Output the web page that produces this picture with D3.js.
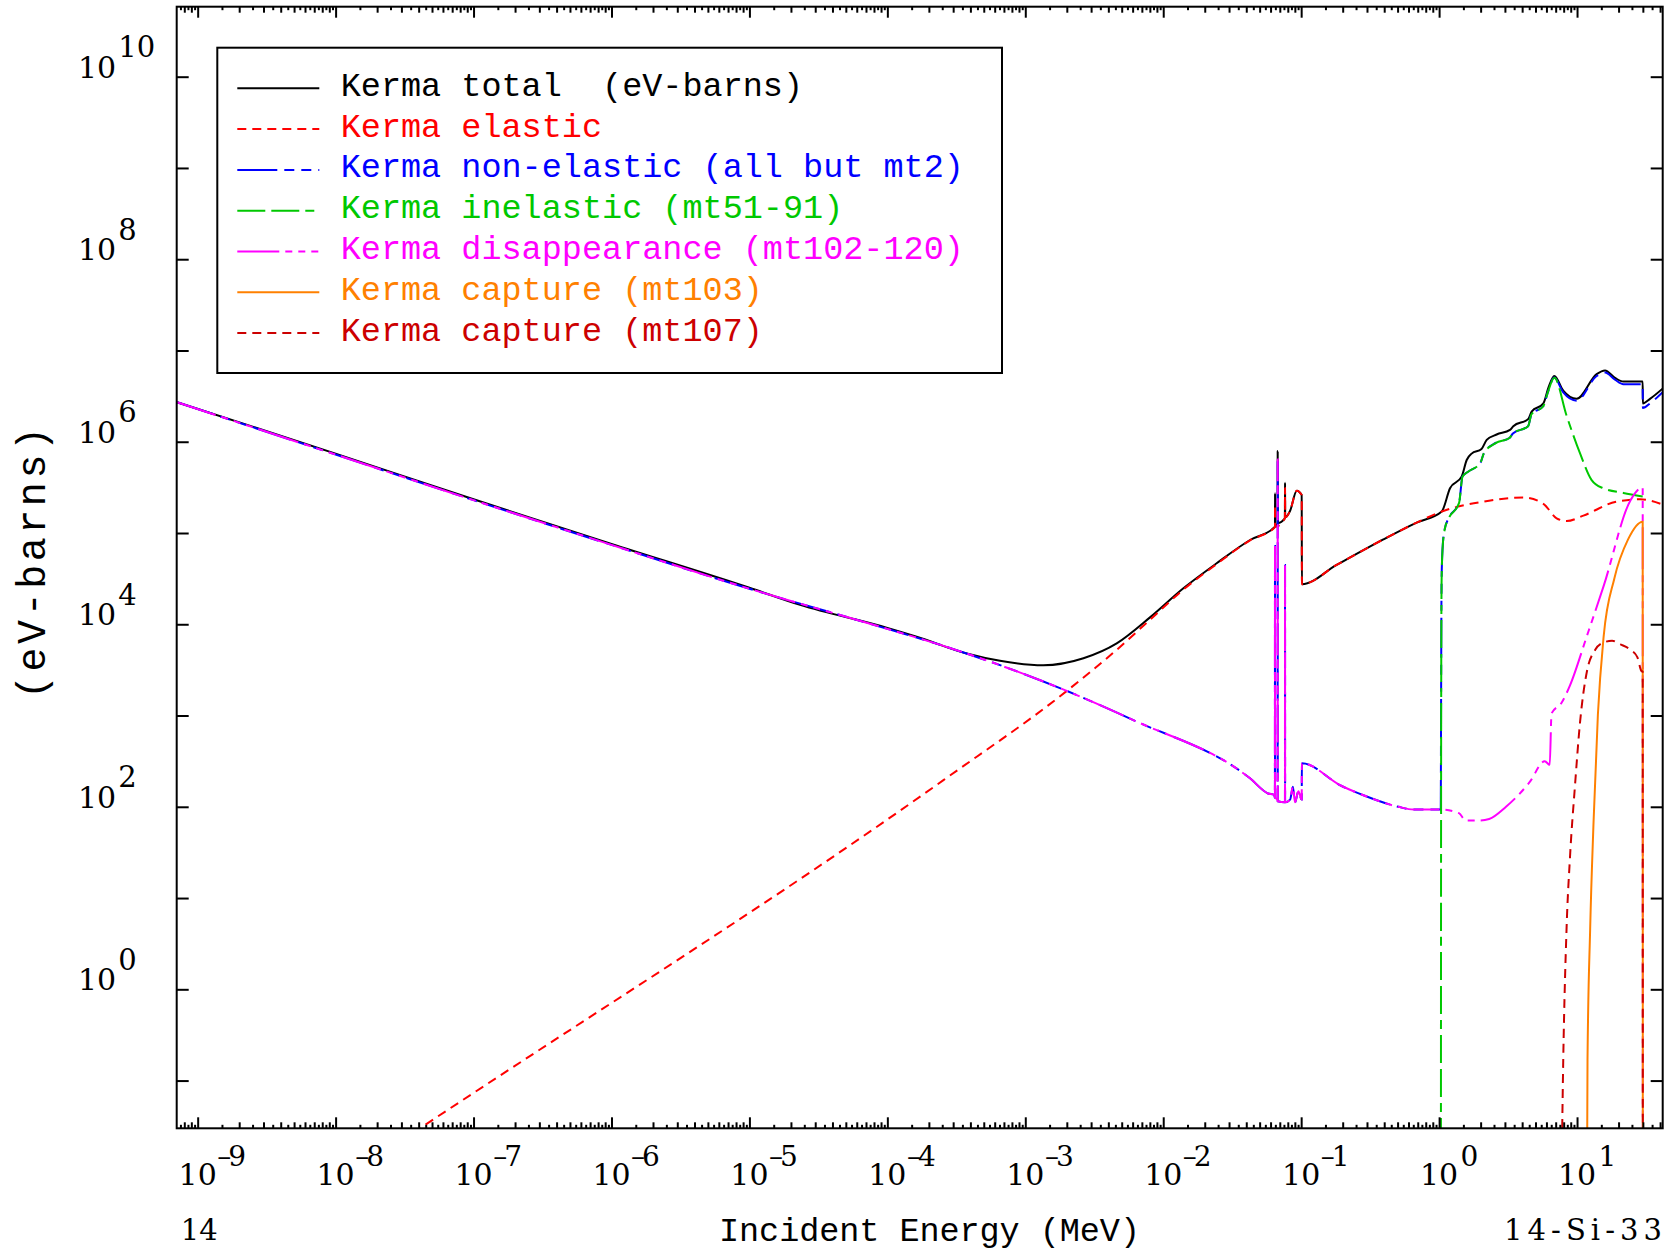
<!DOCTYPE html>
<html><head><meta charset="utf-8">
<script src="https://cdn.jsdelivr.net/npm/d3@7/dist/d3.min.js"></script>
<style>body{margin:0;background:#fff} svg{display:block}</style>
</head><body><svg id="c" width="1671" height="1251"></svg>
<script>
// ---------------- data (energy MeV, kerma eV-barns) ----------------
const kermaTotal = [
 [6.93e-10,2.74e6],[1e-8,7.41e5],[1e-7,2.34e5],[1e-6,7.59e4],[1e-5,2.51e4],[2.33e-5,1.63e4],
 [1e-4,9.12e3],[1.63e-4,7.31e3],[3.76e-4,4.79e3],[6.56e-4,3.98e3],[1.35e-3,3.55e3],[2.64e-3,4.24e3],
 [4.60e-3,6.17e3],[8.02e-3,1.19e4],[1.40e-2,2.48e4],[2.44e-2,4.66e4],[4.26e-2,8.38e4],[6.46e-2,1.17e5],
 [6.466e-2,2.72e5],[6.48e-2,1.19e5],[6.75e-2,1.26e5],[6.76e-2,7.91e5],[6.78e-2,1.29e5],[7.62e-2,1.45e5],
 [7.64e-2,3.55e5],[7.66e-2,1.48e5],[8.30e-2,1.74e5],[9.29e-2,2.91e5],[0.1009,2.61e5],[0.1012,2.74e4],
 [0.1807,4.47e4],[0.3945,8.51e4],[0.687,1.30e5],[1.045,1.72e5],[1.20,3.09e5],[1.459,4.17e5],
 [1.585,6.31e5],[1.722,7.41e5],[2.03,8.32e5],[2.213,1.047e6],[2.612,1.20e6],[3.266,1.35e6],
 [3.451,1.48e6],[4.436,1.78e6],[4.688,2.14e6],[5.702,2.63e6],[6.194,3.89e6],[6.839,5.25e6],
 [7.943,3.63e6],[9.93,2.95e6],[13.87,5.50e6],[15.96,6.03e6],[18.84,5.01e6],[21.68,4.57e6],
 [29.92,4.57e6],[29.99,2.63e6],[33.8,2.95e6],[42.3,3.89e6]
];
const kermaElastic = [
 [6.92e-10,5.0e-4],[4.09e-8,0.030],[2.55e-4,196],[2.0e-3,1.86e3],[4.60e-3,5.25e3],[8.02e-3,1.12e4],
 [1.40e-2,2.40e4],[2.44e-2,4.57e4],[4.26e-2,8.32e4],[6.46e-2,1.16e5],[6.466e-2,2.03e5],[6.48e-2,1.17e5],
 [7.62e-2,1.45e5],[7.64e-2,3.09e5],[7.66e-2,1.48e5],[8.30e-2,1.74e5],[9.29e-2,2.91e5],[0.1009,2.61e5],
 [0.1012,2.74e4],[0.1807,4.47e4],[0.3945,8.51e4],[0.687,1.30e5],[1.045,1.72e5],[2.094,2.21e5],
 [4.083,2.45e5],[5.702,2.09e5],[7.112,1.45e5],[8.414,1.35e5],[11.12,1.55e5],[19.36,2.21e5],
 [28.64,2.34e5],[42.3,2.04e5]
];
const kermaNonElastic = [
 [6.93e-10,2.74e6],[1e-8,7.24e5],[1e-7,2.29e5],[1e-6,7.41e4],[1e-5,2.45e4],[1e-4,8.91e3],
 [2.84e-4,5.50e3],[2.0e-3,1.86e3],[6.07e-3,891],[4.26e-2,205],[5.75e-2,140],[6.38e-2,135],
 [6.45e-2,126],[6.46e-2,7.19e4],[6.466e-2,126],[6.71e-2,120],[6.75e-2,115],[6.76e-2,6.41e5],
 [6.77e-2,115],[7.59e-2,112],[7.63e-2,112],[7.64e-2,4.47e4],[7.65e-2,112],[8.32e-2,120],
 [8.71e-2,166],[9.02e-2,112],[9.55e-2,148],[0.1009,120],[0.1012,300],[0.195,170],[0.289,132],
 [0.507,100],[0.653,93.3],[1.023,93.3],[1.028,93.3],[1.033,1.0e3],[1.042,2.9e4],[1.059,6.7e4],
 [1.096,1.09e5],[1.175,1.46e5],[1.396,2.15e5],[1.479,4.18e5],[1.622,4.69e5],[1.995,5.9e5],
 [2.113,7.5e5],[2.570,9.7e5],[3.236,1.10e6],[3.428,1.23e6],[4.416,1.48e6],[4.677,2.0e6],
 [5.689,2.45e6],[6.166,3.55e6],[6.839,5.05e6],[7.943,3.47e6],[9.93,2.82e6],[13.87,5.25e6],
 [15.96,5.75e6],[18.84,4.79e6],[21.68,4.27e6],[29.92,4.27e6],[29.99,2.34e6],[33.8,2.63e6],[42.3,3.55e6]
];
const kermaInelastic = [
 [1.030,1e-3],[1.035,1e3],[1.042,2.82e4],[1.059,6.61e4],[1.096,1.08e5],[1.175,1.45e5],
 [1.396,2.14e5],[1.479,4.17e5],[1.622,4.68e5],[1.995,5.89e5],[2.113,7.50e5],[2.570,9.66e5],
 [3.236,1.10e6],[3.428,1.23e6],[4.416,1.48e6],[4.677,2.0e6],[5.689,2.45e6],[6.166,3.55e6],
 [6.839,5.01e6],[8.414,1.91e6],[10.5,7.50e5],[12.76,3.80e5],[15.49,3.09e5],[21.68,2.75e5],[29.92,2.51e5]
];
const kermaDisappearance = [
 [6.93e-10,2.74e6],[1e-8,7.24e5],[1e-7,2.29e5],[1e-6,7.41e4],[1e-5,2.45e4],[1e-4,8.91e3],
 [2.84e-4,5.50e3],[2.0e-3,1.86e3],[6.07e-3,891],[4.26e-2,205],[5.75e-2,140],[6.38e-2,135],
 [6.45e-2,126],[6.46e-2,7.19e4],[6.466e-2,126],[6.71e-2,120],[6.75e-2,115],[6.76e-2,6.41e5],
 [6.77e-2,115],[7.59e-2,112],[7.63e-2,112],[7.64e-2,4.47e4],[7.65e-2,112],[8.32e-2,120],
 [8.71e-2,166],[9.02e-2,112],[9.55e-2,148],[0.1009,120],[0.1012,300],[0.195,170],[0.289,132],
 [0.507,100],[0.653,93.3],[1.023,93.3],[1.393,85.1],[1.56,70.8],[1.95,70.8],[2.307,73.5],
 [3.055,100],[4.529,186],[5.834,316],[6.339,288],[6.531,1.05e3],[7.727,1.38e3],[8.892,2.14e3],
 [11.78,7.41e3],[15.6,2.63e4],[24.43,2.29e5],[29.92,3.16e5],[29.99,1e-3]
];
const kermaCapture103 = [
 [11.75,1e-3],[11.91,0.168],[12.45,4.62],[13.18,69.2],[14.16,1.02e3],[15.6,7.41e3],
 [18.62,3.16e4],[23.44,8.51e4],[29.92,1.33e5],[29.99,1e-3]
];
const kermaCapture107 = [
 [7.586,1e-3],[7.943,0.168],[8.395,4.62],[8.892,28.2],[9.661,170],[10.52,851],[11.78,3.02e3],
 [13.55,5.25e3],[15.6,6.31e3],[17.95,6.61e3],[20.65,6.03e3],[24.43,5.25e3],[27.35,4.37e3],
 [29.24,3.09e3],[29.92,3.02e3],[29.99,1e-3]
];
const seriesNames = [
 "Kerma total  (eV-barns)","Kerma elastic","Kerma non-elastic (all but mt2)",
 "Kerma inelastic (mt51-91)","Kerma disappearance (mt102-120)","Kerma capture (mt103)","Kerma capture (mt107)"
];
const xTickExponents = [-9,-8,-7,-6,-5,-4,-3,-2,-1,0,1];
const yTickExponents = [-1,0,1,2,3,4,5,6,7,8,9,10];
const yLabelExponents = [0,2,4,6,8,10];

// ---------------- layout ----------------
const L = 176.7, R = 1662.7, T = 6.7, B = 1128.3;
const svg = d3.select("#c");
const x = d3.scaleLog().domain([Math.pow(10,-9.152), Math.pow(10,1.621)]).range([L, R]);
const y = d3.scaleLog().domain([Math.pow(10,-1.523), Math.pow(10,10.767)]).range([B, T]);

const styles = [
 {c:"#000000", d:null},
 {c:"#ff0000", d:"9,6"},
 {c:"#0000ff", d:"40,7,10,7,10,7"},
 {c:"#00c800", d:"28,6,28,6,9,6"},
 {c:"#ff00ff", d:"42,6,7,6,7,6,7,6"},
 {c:"#ff8000", d:null},
 {c:"#cc0000", d:"9,6"}
];
const textColors = ["#000000","#ff0000","#0000ff","#00c800","#ff00ff","#ff8000","#cc0000"];
const allSeries = [kermaTotal,kermaElastic,kermaNonElastic,kermaInelastic,kermaDisappearance,kermaCapture103,kermaCapture107];

svg.append("defs").append("clipPath").attr("id","plotclip")
  .append("rect").attr("x",L).attr("y",T).attr("width",R-L).attr("height",B-T);

const line = d3.line().x(d=>x(d[0])).y(d=>y(d[1])).curve(d3.curveMonotoneX);
const g = svg.append("g").attr("clip-path","url(#plotclip)");
allSeries.forEach((s,i)=>{
  g.append("path").datum(s).attr("d",line).attr("fill","none")
   .attr("stroke",styles[i].c).attr("stroke-width",2)
   .attr("stroke-dasharray",styles[i].d);
});

// ---------------- axes ----------------
const majorX = xTickExponents.map(e=>Math.pow(10,e));
const minorX = [];
for (let e=-10;e<=1;e++) for (let m=1.5;m<10;m+=0.5){ const v=m*Math.pow(10,e); if (v>x.domain()[0] && v<x.domain()[1]) minorX.push(v); }
const minorInt = minorX.filter(v=>{const m=v/Math.pow(10,Math.floor(Math.log10(v)+1e-9)); return Math.abs(m-Math.round(m))<1e-6;});
const minorHalf = minorX.filter(v=>!minorInt.includes(v));
const majorY = yTickExponents.map(e=>Math.pow(10,e));

function addAxis(axis, tr){
  const a = svg.append("g").attr("transform",tr).call(axis);
  a.select(".domain").remove();
  a.selectAll("line").attr("stroke","#000").attr("stroke-width",2);
  a.selectAll("text").remove();
}
addAxis(d3.axisBottom(x).tickValues(majorX).tickSize(-11).tickFormat(""),`translate(0,${B})`);
addAxis(d3.axisBottom(x).tickValues(minorInt).tickSize(-6).tickFormat(""),`translate(0,${B})`);
addAxis(d3.axisBottom(x).tickValues(minorHalf).tickSize(-3.5).tickFormat(""),`translate(0,${B})`);
addAxis(d3.axisTop(x).tickValues(majorX).tickSize(-11).tickFormat(""),`translate(0,${T})`);
addAxis(d3.axisTop(x).tickValues(minorInt).tickSize(-6).tickFormat(""),`translate(0,${T})`);
addAxis(d3.axisTop(x).tickValues(minorHalf).tickSize(-3.5).tickFormat(""),`translate(0,${T})`);
addAxis(d3.axisLeft(y).tickValues(majorY).tickSize(-12).tickFormat(""),`translate(${L},0)`);
addAxis(d3.axisRight(y).tickValues(majorY).tickSize(-12).tickFormat(""),`translate(${R},0)`);

svg.append("rect").attr("x",L).attr("y",T).attr("width",R-L).attr("height",B-T)
  .attr("fill","none").attr("stroke","#000").attr("stroke-width",2);

// x tick labels: "10" centred on the tick, exponent raised at its right
const serif = "DejaVu Serif";
const FS = 30, halfBase = 0.636*FS;
xTickExponents.forEach(e=>{
  const px = x(Math.pow(10,e));
  const t = svg.append("text").attr("x",px-halfBase).attr("y",1185)
    .attr("font-family",serif).attr("font-size",FS);
  t.append("tspan").text("10");
  const expTxt = e<0 ? "\u2013"+String(-e) : String(e);
  t.append("tspan").attr("dx",e<0 ? 0.5 : 2.4).attr("dy",-19).attr("font-size",28)
    .attr("letter-spacing", e<0 ? -3 : 0).text(expTxt);
});
// y tick labels
yLabelExponents.forEach(e=>{
  const py = y(Math.pow(10,e));
  const t = svg.append("text").attr("x",78).attr("y",py+1).attr("font-family",serif).attr("font-size",FS);
  t.append("tspan").text("10");
  t.append("tspan").attr("dx",2).attr("dy",-20.5).attr("font-size",29).text(String(e));
});

// titles
const mono = "Liberation Mono";
svg.append("text").attr("x",929.5).attr("y",1241).attr("text-anchor","middle")
  .attr("font-family",mono).attr("font-size",33.5).attr("textLength",421).attr("lengthAdjust","spacing")
  .text("Incident Energy (MeV)");
svg.append("text").attr("transform","translate(45,563) rotate(-90)").attr("text-anchor","middle")
  .attr("font-family",mono).attr("font-size",40).attr("textLength",272).attr("lengthAdjust","spacing")
  .text("(eV-barns)");
svg.append("text").attr("x",180.7).attr("y",1240).attr("font-family",serif).attr("font-size",29).text("14");
svg.append("text").attr("x",1662).attr("y",1240).attr("text-anchor","end").attr("font-family",serif)
  .attr("font-size",29).attr("textLength",158).attr("lengthAdjust","spacing").text("14-Si-33");

// legend
svg.append("rect").attr("x",217.3).attr("y",47.7).attr("width",1002-217.3).attr("height",373-47.7)
  .attr("fill","#fff").attr("stroke","#000").attr("stroke-width",2);
seriesNames.forEach((n,i)=>{
  const ly = 88.3 + i*40.8;
  svg.append("line").attr("x1",237.3).attr("x2",319.3).attr("y1",ly).attr("y2",ly)
    .attr("stroke",styles[i].c).attr("stroke-width",2).attr("stroke-dasharray",styles[i].d);
  svg.append("text").attr("x",340.7).attr("y",ly+7.5).attr("font-family",mono).attr("font-size",33.5)
    .attr("fill",textColors[i]).style("white-space","pre").text(n);
});
</script></body></html>
